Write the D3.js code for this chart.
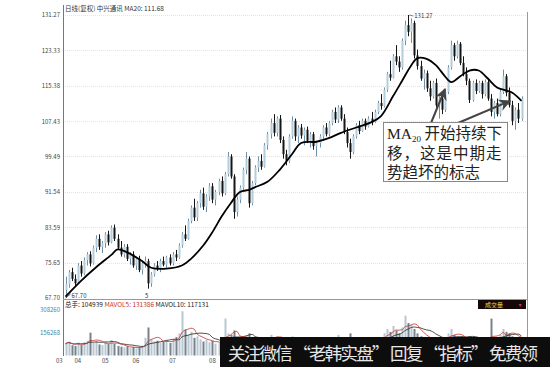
<!DOCTYPE html>
<html lang="zh">
<head>
<meta charset="UTF-8">
<title>中兴通讯 日线</title>
<script src="https://d3js.org/d3.v7.min.js"></script>
<style>
    body { margin: 0; background: #fff; }
    text { font-family: "Noto Sans CJK SC", "DejaVu Sans", sans-serif; }
    .tick-label { font-size: 6px; fill: #444; }
</style>
</head>
<body>
<svg id="chart" width="550" height="367"></svg>
<script>
    // daily candles [open, high, low, close]
    const candles = [
        [69.5,72.5,67.7,70.8],[70.8,74.0,70.0,73.5],[73.5,74.5,71.5,72.0],[72.0,73.0,70.2,71.0],[71.0,75.5,70.8,75.0],
        [75.0,76.0,72.5,73.2],[73.2,76.8,72.8,76.2],[76.2,78.0,75.0,77.5],[77.5,78.2,74.8,75.5],[75.5,79.5,75.2,79.0],
        [79.0,81.8,78.0,81.0],[81.0,82.0,78.5,79.2],[79.2,80.5,77.8,80.0],[80.0,82.5,79.0,82.0],[82.0,82.8,79.5,80.2],
        [80.2,84.0,80.0,83.5],[83.5,84.2,80.5,81.0],[81.0,82.0,78.5,79.0],[79.0,80.5,77.0,77.5],[77.5,79.8,76.8,79.2],
        [79.2,79.8,76.0,76.5],[76.5,78.0,75.2,77.5],[77.5,78.2,74.5,75.0],[75.0,77.0,74.0,76.5],[76.5,77.2,73.5,74.0],
        [74.0,76.0,73.0,75.5],[75.5,77.0,74.5,76.0],[76.0,76.5,69.8,71.0],[71.0,73.5,70.2,73.0],[73.0,75.5,72.5,75.0],
        [75.0,76.0,73.8,74.2],[74.2,76.5,73.5,76.0],[76.0,77.0,74.8,75.2],[75.2,77.2,74.5,76.8],[76.8,77.5,75.0,75.5],
        [75.5,78.0,75.0,77.5],[77.5,78.5,76.0,76.8],[76.8,80.0,76.5,79.5],[79.5,82.5,79.0,82.0],[82.0,84.0,80.5,81.0],
        [81.0,85.5,80.8,85.0],[85.0,88.5,84.5,88.0],[88.0,90.0,85.0,85.8],[85.8,89.5,85.0,89.0],[89.0,92.0,88.0,91.2],
        [91.2,92.5,87.5,88.2],[88.2,91.0,87.0,90.5],[90.5,93.5,89.5,92.8],[92.8,93.5,89.0,89.8],[89.8,92.0,88.5,91.5],
        [91.5,94.5,90.8,94.0],[94.0,95.0,90.5,91.2],[91.2,96.0,90.8,95.5],[95.5,100.5,95.0,99.5],[99.5,100.0,94.5,95.0],
        [95.0,95.5,85.5,87.0],[87.0,90.5,86.0,89.8],[89.8,93.0,89.0,92.5],[92.5,97.0,92.0,96.5],[96.5,100.5,95.5,99.0],
        [99.0,99.5,88.0,89.0],[89.0,94.0,88.5,93.5],[93.5,97.5,93.0,97.0],[97.0,99.5,96.0,98.5],[98.5,100.0,96.5,97.2],
        [97.2,102.5,97.0,102.0],[102.0,105.0,101.0,104.5],[104.5,108.0,103.5,107.0],[107.0,109.0,104.0,104.8],[104.8,108.5,104.0,108.0],
        [108.0,108.8,102.5,103.2],[103.2,104.0,99.0,100.0],[100.0,101.0,97.5,98.5],[98.5,104.5,98.0,104.0],[104.0,108.5,103.5,107.5],
        [107.5,108.0,103.0,104.0],[104.0,106.5,102.5,106.0],[106.0,106.8,103.5,104.2],[104.2,106.0,102.0,105.5],[105.5,106.2,102.5,103.0],
        [103.0,105.0,101.5,104.5],[104.5,105.0,101.0,101.8],[101.8,103.0,99.5,102.5],[102.5,104.5,101.5,104.0],[104.0,106.5,103.0,106.0],
        [106.0,107.0,104.0,104.5],[104.5,107.5,104.0,107.0],[107.0,110.0,106.5,109.5],[109.5,110.5,107.0,107.8],[107.8,111.0,107.0,110.5],
        [110.5,111.0,107.5,108.0],[108.0,109.0,104.5,105.0],[105.0,106.0,101.5,102.5],[102.5,103.5,99.0,100.5],[100.5,104.5,100.0,104.0],
        [104.0,107.0,103.5,106.5],[106.5,107.5,104.5,105.2],[105.2,108.0,105.0,107.5],[107.5,108.0,105.5,106.2],[106.2,108.5,106.0,108.0],
        [108.0,109.5,106.5,107.2],[107.2,110.0,107.0,109.5],[109.5,112.0,109.0,111.5],[111.5,113.5,110.0,110.8],[110.8,115.0,110.5,114.5],
        [114.5,118.5,114.0,118.0],[118.0,121.0,116.5,117.2],[117.2,122.5,117.0,122.0],[122.0,124.5,120.0,120.8],[120.8,122.0,118.5,119.5],
        [119.5,126.0,119.0,125.5],[125.5,130.0,124.5,129.0],[129.0,131.27,126.5,127.5],[127.5,130.5,125.0,129.5],[129.5,130.0,121.5,122.2],
        [122.2,123.5,119.0,119.8],[119.8,121.0,116.5,117.0],[117.0,119.0,114.5,118.2],[118.2,118.8,114.0,114.8],[114.8,116.5,112.0,113.0],
        [113.0,116.5,112.5,116.0],[116.0,117.0,110.5,111.0],[111.0,113.0,108.0,112.5],[112.5,113.5,109.0,110.0],[110.0,114.5,109.5,114.0],
        [114.0,120.0,113.5,119.5],[119.5,125.5,119.0,124.5],[124.5,125.0,121.0,122.0],[122.0,125.5,121.5,124.8],[124.8,125.2,120.0,120.5],
        [120.5,122.0,117.5,118.0],[118.0,119.5,115.5,116.5],[116.5,117.0,111.5,112.2],[112.2,116.5,111.8,116.0],[116.0,116.8,113.5,114.2],
        [114.2,116.5,113.8,116.0],[116.0,116.5,112.5,113.5],[113.5,116.8,113.0,116.2],[116.2,117.0,112.0,112.5],[112.5,113.5,108.5,109.5],
        [109.5,112.0,108.0,111.5],[111.5,112.5,108.5,109.0],[109.0,114.5,108.5,114.0],[114.0,119.0,113.5,117.5],[117.5,118.0,113.0,113.8],
        [113.8,115.0,110.5,111.0],[111.0,112.0,106.5,107.5],[107.5,110.5,105.5,110.0],[110.0,111.5,107.0,108.0],[108.0,113.0,107.5,112.5]
    ];

    // MA20: [candle index, value]
    const ma20 = [
        [0,68.0],[5,71.5],[10,74.6],[15,77.4],[17,78.6],[20,78.0],[25,76.0],[28,74.5],[33,74.3],[38,75.0],
        [41,76.5],[45,79.5],[48,82.5],[51,86.0],[54,89.0],[57,91.5],[60,92.0],[62,92.6],[66,93.8],[70,96.5],
        [74,100.0],[77,102.5],[82,102.8],[86,103.6],[90,104.8],[95,106.0],[100,107.2],[103,108.5],[107,113.0],[110,116.5],
        [113,120.0],[115,121.6],[118,121.4],[121,120.0],[124,117.5],[126,116.2],[129,117.5],[132,118.8],[135,118.8],[138,117.0],
        [141,115.0],[144,114.3],[146,113.8],[149,112.0]
    ];

    // volume (shares)
    const volumes = [
        80000,95000,70000,65000,88000,72000,90000,100000,155000,85000,
        98000,75000,70000,90000,78000,105000,80000,65000,60000,55000,
        62000,50000,58000,48000,55000,68000,120000,190000,110000,95000,
        100000,88000,92000,105000,85000,110000,125000,150000,300000,175000,
        140000,160000,120000,130000,110000,95000,105000,90000,100000,80000,
        88000,75000,250000,150000,140000,170000,110000,95000,120000,130000,
        150000,115000,100000,95000,90000,110000,125000,140000,120000,130000,
        115000,105000,95000,100000,130000,110000,90000,85000,80000,95000,
        88000,75000,82000,90000,95000,85000,100000,120000,110000,140000,
        105000,95000,120000,150000,110000,100000,90000,95000,85000,100000,
        95000,110000,120000,105000,150000,180000,160000,200000,170000,150000,
        190000,270000,220000,210000,180000,150000,130000,120000,115000,110000,
        105000,125000,110000,100000,120000,150000,180000,140000,130000,120000,
        110000,100000,130000,115000,100000,95000,90000,95000,105000,250000,
        110000,100000,140000,180000,160000,150000,130000,120000,110000,105000
    ];

    const yTicks = [67.70, 75.65, 83.59, 91.54, 99.49, 107.43, 115.38, 123.33, 131.27];
    const volTicks = [156268, 308260];
    const monthIdx = [-2, 4, 13, 23, 35, 48];
    const monthLabels = ['03', '04', '05', '06', '07', '08'];

    const svg = d3.select('#chart');

    const xScale = d3.scaleLinear().domain([0, candles.length - 1]).range([65.5, 521.5]);
    const yScale = d3.scaleLinear().domain([67.70, 131.27]).range([298, 15]);
    const vScale = d3.scaleLinear().domain([0, 308260]).range([355.5, 310]);

    // gridlines
    svg.selectAll('.grid')
        .data(yTicks.slice(1))
        .enter()
        .append('line')
        .attr('x1', 63).attr('x2', 527)
        .attr('y1', d => Math.round(yScale(d)) + 0.5)
        .attr('y2', d => Math.round(yScale(d)) + 0.5)
        .attr('stroke', '#e4e4e4')
        .attr('stroke-dasharray', '1,1');

    // price axis
    svg.append('g')
        .attr('transform', 'translate(63,0)')
        .call(d3.axisLeft(yScale).tickValues(yTicks).tickSize(0).tickPadding(3).tickFormat(d3.format('.2f')))
        .call(g => g.select('.domain').remove())
        .selectAll('text')
        .attr('class', 'tick-label');

    // frame
    svg.append('line').attr('x1', 63.5).attr('x2', 63.5).attr('y1', 5).attr('y2', 356).attr('stroke', '#777');
    svg.append('line').attr('x1', 527.5).attr('x2', 527.5).attr('y1', 12).attr('y2', 356).attr('stroke', '#999');
    svg.append('line').attr('x1', 63).attr('x2', 528).attr('y1', 299.5).attr('y2', 299.5).attr('stroke', '#999');

    const upFill = '#b4cddc', upStroke = '#6f8fa6', downFill = '#151515';
    const isUp = d => d[3] >= d[0];

    // wicks
    svg.selectAll('.wick')
        .data(candles)
        .enter()
        .append('line')
        .attr('x1', (d, i) => Math.round(xScale(i)) + 0.5)
        .attr('x2', (d, i) => Math.round(xScale(i)) + 0.5)
        .attr('y1', d => yScale(d[1]))
        .attr('y2', d => yScale(d[2]))
        .attr('stroke', d => isUp(d) ? upStroke : downFill)
        .attr('stroke-width', 1);

    // bodies
    svg.selectAll('.body')
        .data(candles)
        .enter()
        .append('rect')
        .attr('x', (d, i) => Math.round(xScale(i)) - 0.5)
        .attr('width', 2)
        .attr('y', d => yScale(Math.max(d[0], d[3])))
        .attr('height', d => Math.max(1, Math.abs(yScale(d[0]) - yScale(d[3]))))
        .attr('fill', d => isUp(d) ? upFill : downFill);

    // MA20
    svg.append('path')
        .datum(ma20)
        .attr('fill', 'none')
        .attr('stroke', '#000')
        .attr('stroke-width', 1.8)
        .attr('d', d3.line().x(d => xScale(d[0])).y(d => yScale(d[1])).curve(d3.curveCatmullRom));

    // header
    svg.append('text').attr('x', 65).attr('y', 11).attr('font-size', 6.5).attr('fill', '#333')
        .text('日线(复权)  中兴通讯  MA20: 111.68');

    // high / low marks
    const peakIdx = 112;
    svg.append('line').attr('x1', xScale(peakIdx) + 1).attr('y1', yScale(131.27))
        .attr('x2', xScale(peakIdx) + 5).attr('y2', yScale(131.27) + 1).attr('stroke', '#333').attr('stroke-width', 0.6);
    svg.append('text').attr('x', xScale(peakIdx) + 6).attr('y', yScale(131.27) + 3)
        .attr('font-size', 6).attr('fill', '#333').text('131.27');
    svg.append('line').attr('x1', xScale(0)).attr('y1', yScale(67.70))
        .attr('x2', xScale(0) + 5).attr('y2', yScale(67.70) - 4).attr('stroke', '#333').attr('stroke-width', 0.8);
    svg.append('text').attr('x', xScale(0) + 6).attr('y', yScale(67.70))
        .attr('font-size', 6).attr('fill', '#333').text('67.70');
    svg.append('text').attr('x', xScale(26)).attr('y', 298).attr('font-size', 6).attr('fill', '#333').text('5');

    // volume
    svg.selectAll('.vol')
        .data(volumes)
        .enter()
        .append('rect')
        .attr('x', (d, i) => Math.round(xScale(i)) - 0.5)
        .attr('width', 2)
        .attr('y', d => vScale(d))
        .attr('height', d => vScale(0) - vScale(d))
        .attr('fill', (d, i) => isUp(candles[i]) ? '#b8c8d2' : '#76838d');

    const movAvg = n => volumes.map((v, i) => {
        const s = volumes.slice(Math.max(0, i - n + 1), i + 1);
        return d3.mean(s);
    });
    const volLine = d3.line().x((d, i) => xScale(i)).y(d => vScale(d)).curve(d3.curveMonotoneX);
    svg.append('path').datum(movAvg(10)).attr('fill', 'none').attr('stroke', '#222').attr('stroke-width', 0.8).attr('d', volLine);
    svg.append('path').datum(movAvg(5)).attr('fill', 'none').attr('stroke', '#c8302c').attr('stroke-width', 0.8).attr('d', volLine);

    svg.append('g')
        .attr('transform', 'translate(63,0)')
        .call(d3.axisLeft(vScale).tickValues(volTicks).tickSize(0).tickPadding(3).tickFormat(d3.format('d')))
        .call(g => g.select('.domain').remove())
        .selectAll('text')
        .attr('class', 'tick-label')
        .style('fill', '#3b86a6');

    const volHead = svg.append('text').attr('x', 65).attr('y', 306.5).attr('font-size', 6.5);
    volHead.append('tspan').attr('fill', '#222').text('总手: 104939 ');
    volHead.append('tspan').attr('fill', '#c8302c').text('MAVOL5: 131386 ');
    volHead.append('tspan').attr('fill', '#222').text('MAVOL10: 117131');

    svg.append('rect').attr('x', 478).attr('y', 300).attr('width', 48).attr('height', 9).attr('fill', '#160808');
    svg.append('text').attr('x', 494).attr('y', 307).attr('text-anchor', 'middle').attr('font-size', 6)
        .attr('fill', '#e8d84a').text('成交量');
    svg.append('text').attr('x', 520).attr('y', 307).attr('text-anchor', 'middle').attr('font-size', 6)
        .attr('fill', '#d0304a').text('▾');

    // month labels
    svg.selectAll('.month')
        .data(monthIdx)
        .enter()
        .append('text')
        .attr('x', d => xScale(d))
        .attr('y', 363)
        .attr('text-anchor', 'middle')
        .attr('font-size', 6)
        .attr('fill', '#444')
        .text((d, i) => monthLabels[i]);

    // annotation arrows
    const defs = svg.append('defs');
    defs.append('marker')
        .attr('id', 'head')
        .attr('viewBox', '0 0 10 10')
        .attr('refX', 9).attr('refY', 5)
        .attr('markerWidth', 6).attr('markerHeight', 6)
        .attr('markerUnits', 'strokeWidth')
        .attr('orient', 'auto')
        .append('path').attr('d', 'M0,0 L10,5 L0,10 L3,5 Z').attr('fill', '#444');
    svg.append('line').attr('x1', 431).attr('y1', 123).attr('x2', 445).attr('y2', 89)
        .attr('stroke', '#444').attr('stroke-width', 2).attr('marker-end', 'url(#head)');
    svg.append('line').attr('x1', 458).attr('y1', 123).attr('x2', 510).attr('y2', 101)
        .attr('stroke', '#444').attr('stroke-width', 2).attr('marker-end', 'url(#head)');

    // annotation box, one text block with three lines
    svg.append('rect').attr('x', 383.5).attr('y', 122.5).attr('width', 124).attr('height', 59)
        .attr('fill', '#fff').attr('stroke', '#888');
    const note = svg.append('text').attr('x', 387).attr('y', 139).attr('font-size', 15.5).attr('fill', '#222');
    note.append('tspan').attr('font-family', 'Liberation Serif').text('MA');
    note.append('tspan').attr('font-family', 'Liberation Serif').attr('font-size', 9).attr('dy', 3).text('20');
    note.append('tspan').attr('dy', -3).text(' 开始持续下');
    note.append('tspan').attr('x', 387).attr('dy', 20).attr('letter-spacing', 1).text('移，这是中期走');
    note.append('tspan').attr('x', 387).attr('dy', 19).attr('letter-spacing', 0).text('势趋坏的标志');

    // watermark banner
    svg.append('rect').attr('x', 220).attr('y', 337).attr('width', 330).attr('height', 30).attr('fill', '#0d0d0d');
    svg.append('text').attr('x', 228).attr('y', 359.5).attr('font-size', 17.5).attr('fill', '#e6e6e6')
        .attr('textLength', 310).attr('lengthAdjust', 'spacing')
        .text('关注微信 “老韩实盘” 回复 “指标” 免费领');
</script>
</body>
</html>
